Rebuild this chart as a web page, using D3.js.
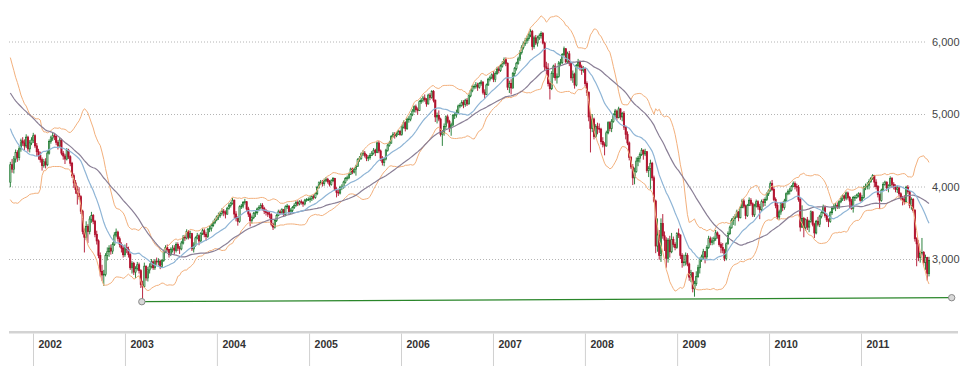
<!DOCTYPE html>
<html><head><meta charset="utf-8">
<script src="https://cdn.jsdelivr.net/npm/d3@7"></script>
<style>body{margin:0;background:#fff}svg{display:block}</style>
</head><body>
<svg id="c" width="966" height="366"></svg>
<script>
// weekly closes before the first drawn candle (Oct 27 2000 - Sep 28 2001), used only for the indicators
const warmClose = [6200,6250,6050,5900,5750,5820,5900,5750,5700,5830,
  5700,5750,5800,5850,5800,5650,5500,5400,5350,5380,5000,4850,5100,5150,5290,5520,5570,5620,5540,
  5580,5500,5390,5350,5190,5210,5230,5060,5000,4900,4950,4950,4780,4750,4750,4550,4400,4000,3650,4060];

const close2001 = [4300,4240,4380,4470,4400,4520,4630,4600,4560,4680,4520,4600,4640];
const high2001  = [4340,4380,4420,4510,4500,4560,4660,4680,4650,4720,4700,4640,4680];
const low2001   = [3990,4190,4180,4330,4340,4360,4480,4560,4500,4530,4480,4470,4570];

const close2002 = [4700,4560,4480,4430, 4370,4290,4340,4300, 4460,4620,4670,4700,4690, 4610,4560,4640,4460, 4420,4380,4500,4410,4320, 4150,4050,3960,3900, 3860,3660,3380,3300, 3450,3380,3550,3600,3520, 3340,3250,3050,2830, 2780,2790,3050,3100, 3150,3110,3200,3330,3370, 3280,3200,3150,3060];
const high2002  = [4740,4720,4600,4520, 4480,4400,4380,4390, 4490,4650,4700,4740,4730, 4710,4640,4670,4660, 4490,4450,4530,4520,4430, 4340,4180,4090,4010, 3990,3880,3680,3420, 3520,3480,3590,3650,3620, 3540,3390,3270,3090, 2920,2850,3080,3160, 3190,3200,3230,3370,3420, 3390,3310,3230,3180];
const low2002   = [4600,4530,4420,4370, 4330,4220,4260,4250, 4280,4440,4590,4630,4640, 4570,4510,4530,4430, 4370,4310,4360,4380,4280, 4120,3980,3900,3750, 3820,3620,3340,3090, 3260,3220,3340,3500,3480, 3300,3200,3010,2760, 2700,2630,2760,2980, 3030,3060,3070,3180,3300, 3240,3160,3090,3020];

const close2003 = [3160,3130,3060,2880,2940, 2820,2870,2920,2840, 2650,2620,2900,2740, 2850,2900,2960,2880, 2970,2960,2970,2900,2980, 3100,3160,3130,3060, 3130,3150,3120,3200, 3150,3140,3220,3300,3290, 3380,3300,3350,3140, 3190,3290,3320,3250,3350, 3390,3340,3310,3410, 3420,3460,3500,3540];
const high2003  = [3200,3220,3170,3080,2970, 2960,2900,2960,2950, 2860,2700,2950,2910, 2890,2940,3000,2980, 3000,3020,3010,2990,3000, 3130,3190,3200,3140, 3160,3190,3190,3230, 3230,3180,3250,3330,3330, 3410,3400,3390,3360, 3230,3310,3360,3340,3370, 3420,3420,3370,3430, 3460,3490,3530,3560];
const low2003   = [3030,3080,3020,2850,2800, 2780,2740,2840,2800, 2600,2420,2600,2700, 2690,2800,2870,2850, 2850,2920,2910,2860,2880, 2960,3080,3100,3020, 3040,3090,3060,3090, 3110,3070,3120,3200,3250, 3270,3270,3280,3110, 3090,3170,3270,3190,3230, 3330,3300,3250,3290, 3370,3380,3440,3480];

const close2004 = [3580,3600,3630,3660,3640, 3620,3700,3740,3770, 3810,3620,3560,3520, 3720,3730,3780,3790,3690, 3620,3530,3570,3630, 3640,3690,3710,3740, 3700,3660,3640,3620,3610, 3480,3440,3530,3600, 3650,3640,3680,3610, 3720,3730,3650,3670,3710, 3740,3780,3760,3790, 3780,3760,3810,3820,3820];
const high2004  = [3600,3640,3660,3700,3690, 3670,3720,3770,3790, 3840,3820,3660,3590, 3740,3760,3800,3830,3800, 3720,3640,3600,3650, 3670,3710,3740,3770, 3770,3720,3690,3670,3650, 3630,3500,3550,3620, 3680,3680,3700,3690, 3740,3760,3740,3700,3730, 3770,3800,3810,3810, 3820,3800,3830,3840,3850];
const low2004   = [3520,3540,3570,3600,3590, 3560,3610,3680,3710, 3750,3560,3520,3460, 3500,3690,3700,3750,3660, 3580,3450,3490,3550, 3580,3610,3660,3690, 3670,3620,3600,3580,3560, 3450,3400,3420,3510, 3590,3610,3620,3580, 3590,3690,3620,3620,3640, 3690,3720,3730,3740, 3750,3720,3740,3790,3800];

const close2005 = [3830,3860,3850,3900, 3990,4050,4060,4040, 4080,4100,4070,4030, 4080,4110,3960,3920,3910, 3990,3990,4060,4110, 4120,4170,4240,4200, 4240,4280,4370,4390,4450, 4460,4430,4390,4400, 4430,4460,4500,4470,4600, 4490,4390,4330,4380, 4500,4570,4600,4690, 4720,4700,4720,4760,4720];
const high2005  = [3870,3880,3890,3920, 4010,4070,4090,4090, 4110,4130,4120,4090, 4100,4130,4120,3990,3960, 4010,4030,4080,4130, 4150,4190,4260,4260, 4260,4300,4390,4420,4470, 4500,4490,4450,4430, 4460,4490,4530,4520,4620, 4630,4510,4420,4400, 4520,4590,4630,4710, 4750,4750,4750,4780,4780];
const low2005   = [3780,3800,3820,3830, 3880,3970,4020,4000, 4010,4060,4040,4000, 4010,4060,3940,3850,3870, 3890,3950,3970,4040, 4080,4100,4160,4170, 4180,4150,4270,4340,4370, 4420,4400,4350,4350, 4370,4420,4440,4420,4460, 4460,4350,4290,4280, 4360,4480,4550,4590, 4670,4660,4680,4710,4700];

const close2006 = [4820,4880,4800,4930, 4930,4990,5040,5100, 5060,5050,5170,5190,5220, 5200,5140,5260,5230, 5310,5190,4960,4980, 4930,4720,4740,4830,4960, 4900,4810,4850,4980, 4990,5020,5110,5120, 5160,5130,5190,5140,5250, 5320,5380,5380,5400, 5370,5420,5440,5300, 5270,5400,5480,5500,5540];
const high2006  = [4850,4910,4900,4950, 4970,5010,5070,5120, 5130,5090,5190,5220,5250, 5270,5220,5280,5290, 5330,5330,5200,5020, 5050,4950,4780,4870,4980, 4990,4920,4880,5000, 5030,5060,5130,5150, 5190,5190,5210,5220,5270, 5340,5400,5410,5440, 5430,5440,5470,5450, 5340,5420,5500,5530,5560];
const low2006   = [4700,4800,4760,4780, 4880,4900,4970,5020, 5020,4990,5040,5140,5160, 5170,5100,5130,5190, 5210,5160,4890,4870, 4900,4690,4560,4700,4790, 4870,4750,4700,4830, 4930,4950,5000,5080, 5100,5080,5100,5110,5130, 5230,5300,5340,5350, 5320,5350,5390,5270, 5210,5260,5390,5450,5480];

const close2007 = [5480,5560,5620,5600, 5660,5700,5750,5700, 5370,5420,5360,5560,5630, 5700,5760,5850,5920, 5970,6010,6040,6090, 6140,5930,6050,5980,6050, 6080,6110,5980,5650, 5630,5420,5350,5560,5660, 5500,5520,5700,5710, 5820,5900,5720,5830, 5700,5500,5550,5400,5670, 5710,5650,5600,5620];
const high2007  = [5590,5590,5650,5660, 5690,5730,5780,5780, 5710,5460,5480,5580,5650, 5720,5790,5880,5950, 6000,6050,6080,6120, 6170,6160,6080,6090,6080, 6110,6140,6130,6000, 5720,5700,5450,5590,5680, 5700,5560,5730,5760, 5840,5930,5910,5860, 5870,5720,5600,5570,5690, 5760,5740,5680,5660];
const low2007   = [5440,5440,5540,5560, 5580,5640,5680,5660, 5330,5290,5270,5350,5520, 5600,5680,5730,5820, 5890,5940,5970,6010, 6060,5880,5900,5950,5930, 6020,6040,5960,5600, 5540,5380,5200,5330,5500, 5460,5420,5500,5660, 5690,5800,5700,5690, 5660,5460,5430,5350,5380, 5640,5600,5540,5570];

const close2008 = [5420,5300,4960,4800, 4930,4690,4830,4800,4790, 4620,4580,4560,4740, 4880,4800,4900,4990, 5040,4950,5070,4960,5010, 4820,4720,4600,4400, 4270,4120,4210,4350, 4390,4440,4500,4450,4480, 4220,4250,4320,4120, 3800,3180,3330,3050,3490, 3320,3260,3010,3260, 3100,3270,3200,3160];
const high2008  = [5640,5450,5310,5020, 5000,4950,4860,4880,4870, 4810,4680,4610,4770, 4900,4900,4930,5010, 5070,5060,5100,5080,5030, 5040,4840,4760,4620, 4420,4310,4260,4400, 4420,4470,4530,4510,4520, 4490,4280,4370,4340, 4150,3820,3560,3400,3560, 3620,3380,3300,3290, 3320,3360,3310,3230];
const low2008   = [5380,5250,4900,4470, 4750,4650,4670,4720,4740, 4580,4540,4430,4550, 4720,4760,4750,4880, 4950,4910,4940,4920,4900, 4780,4650,4570,4360, 4240,4020,4030,4190, 4280,4330,4420,4370,4420, 4190,4130,3960,4080, 3780,3080,3100,2990,2960, 3280,3110,2880,2950, 3020,3080,3160,3120];

const close2009 = [3350,3330,3050,2950,2960, 3050,2930,2750,2810, 2590,2660,2760,2880, 2990,3030,3100,3030, 3160,3280,3230,3250,3280, 3360,3330,3200,3160, 3120,3010,3210,3350,3430, 3530,3560,3580,3650, 3570,3710,3800,3730, 3600,3740,3810,3760,3610, 3730,3790,3720,3680, 3790,3780,3820,3900];
const high2009  = [3370,3420,3340,3080,3060, 3090,3080,2950,2850, 2820,2700,2830,2920, 3020,3060,3140,3110, 3190,3320,3310,3300,3310, 3400,3380,3330,3230, 3220,3140,3230,3380,3460, 3560,3590,3620,3680, 3660,3730,3830,3830, 3750,3760,3850,3840,3780, 3760,3820,3810,3760, 3820,3830,3850,3920];
const low2009   = [3140,3290,3000,2880,2900, 2910,2900,2700,2680, 2540,2480,2630,2740, 2800,2960,3000,2940, 3000,3140,3190,3190,3200, 3250,3280,3170,3080, 3080,2970,2980,3200,3330, 3420,3470,3460,3570, 3520,3560,3700,3700, 3550,3580,3730,3730,3580, 3580,3710,3680,3550, 3660,3720,3730,3800];

const close2010 = [3940,4040,3960,3820,3740, 3580,3650,3760,3710, 3800,3900,3930,3950, 4000,4040,4000,3990,3820, 3440,3560,3430,3540, 3440,3520,3650,3480, 3360,3520,3480,3590,3640, 3720,3600,3540,3520, 3640,3700,3720,3740, 3720,3790,3830,3870,3840, 3910,3850,3800,3700, 3850,3850,3880,3900,3810];
const high2010  = [3960,4070,4090,3990,3850, 3780,3680,3780,3790, 3830,3920,3960,3980, 4020,4070,4070,4040,4020, 3850,3740,3580,3560, 3580,3540,3670,3660, 3500,3540,3580,3610,3660, 3750,3740,3630,3560, 3660,3730,3760,3770, 3780,3810,3860,3890,3890, 3930,3930,3870,3830, 3870,3880,3900,3920,3920];
const low2010   = [3870,3930,3940,3800,3700, 3550,3540,3610,3660, 3680,3790,3880,3890, 3930,3990,3960,3930,3790, 3380,3430,3300,3390, 3400,3370,3500,3450, 3290,3340,3450,3440,3560, 3620,3570,3510,3440, 3500,3610,3680,3660, 3690,3690,3770,3800,3800, 3810,3820,3700,3680, 3640,3800,3830,3850,3790];

const close2011 = [3850,3990,4000,4020, 4070,4110,4150,4060, 4000,3890,3810,3950, 4030,4060,3980,4010,4110, 4030,4000,3960,3980, 3900,3840,3820,3790, 3990,3930,3740,3820,3670, 3280,3210,3020,3080, 3090,2950,3020,2800,2980];
const high2011  = [3880,4010,4040,4060, 4100,4130,4170,4160, 4100,4020,3900,3970, 4060,4080,4070,4030,4140, 4130,4060,4030,4010, 4000,3920,3870,3880, 4010,4020,3940,3850,3840, 3690,3300,3260,3110, 3290,3110,3060,3030,3030];
const low2011   = [3790,3830,3950,3960, 3960,4050,4090,3990, 3960,3850,3690,3790, 3940,4010,3940,3920,4000, 3980,3960,3920,3910, 3860,3810,3740,3750, 3780,3900,3700,3680,3640, 3240,2900,2970,2950, 3050,2900,2850,2700,2760];

// first Friday of each block of weekly candles
const blockStarts = ["2001-10-05","2002-01-04","2003-01-03","2004-01-02","2005-01-07","2006-01-06","2007-01-05","2008-01-04","2009-01-02","2010-01-01","2011-01-07"];
const blocks = [
  [close2001,high2001,low2001],[close2002,high2002,low2002],[close2003,high2003,low2003],
  [close2004,high2004,low2004],[close2005,high2005,low2005],[close2006,high2006,low2006],
  [close2007,high2007,low2007],[close2008,high2008,low2008],[close2009,high2009,low2009],
  [close2010,high2010,low2010],[close2011,high2011,low2011]
];

const yTicks = [3000,4000,5000,6000];
const trendDates = ["2003-03-09","2011-12-27"];
const trendValues = [2411,2466];

const parse = d3.timeParse("%Y-%m-%d");
const candles = [];
blocks.forEach((b,bi)=>{
  const start = parse(blockStarts[bi]);
  b[0].forEach((c,i)=>{
    candles.push({date: d3.timeDay.offset(start, 7*i - 2), c: c, h: b[1][i], l: b[2][i]});
  });
});
candles.forEach((d,i)=>{
  d.o = i===0 ? warmClose[warmClose.length-1] : candles[i-1].c;
  d.h = Math.max(d.h, d.o, d.c);
  d.l = Math.min(d.l, d.o, d.c);
});

// indicators: 20-week SMA with 2σ Bollinger bands, 50-week SMA
const series = warmClose.concat(candles.map(d=>d.c));
const off = warmClose.length;
function sma(n,i){let s=0;for(let k=i-n+1;k<=i;k++)s+=series[k];return s/n;}
candles.forEach((d,j)=>{
  const i=j+off;
  const m=sma(20,i);
  let v=0;for(let k=i-19;k<=i;k++)v+=(series[k]-m)*(series[k]-m);
  const sd=Math.sqrt(v/20);
  d.ma20=m;d.up=m+2*sd;d.dn=m-2*sd;
  d.maL=sma(50,i);
});

const svg = d3.select("#c");
const x = d3.scaleTime().domain([new Date(2002,0,1), new Date(2011,0,1)]).range([33,861]);
const y = d3.scaleLinear().domain([2000,6000]).range([331.5,41.5]);

// grid + right labels
const gAx = svg.append("g").attr("transform","translate(9,0)")
  .call(d3.axisRight(y).tickValues(yTicks).tickSize(918).tickPadding(5).tickFormat(d3.format(",")));
gAx.select(".domain").remove();
gAx.selectAll(".tick line").attr("stroke","#b4b4b4").attr("stroke-dasharray","1,2");
gAx.selectAll(".tick text").attr("fill","#444").style("font","11px Arial, 'Liberation Sans', sans-serif");

// candles
const UP="#17762a", DN="#b0102c";
const cg = svg.append("g");
const cw = 1.2;
cg.selectAll("line.w").data(candles).join("line")
  .attr("x1",d=>x(d.date)).attr("x2",d=>x(d.date))
  .attr("y1",d=>y(d.h)).attr("y2",d=>y(d.l))
  .attr("stroke",d=>d.c>=d.o?UP:DN).attr("stroke-width",0.9);
cg.selectAll("rect").data(candles).join("rect")
  .attr("x",d=>x(d.date)-cw/2).attr("width",cw)
  .attr("y",d=>y(Math.max(d.o,d.c)))
  .attr("height",d=>Math.max(0.6,Math.abs(y(d.o)-y(d.c))))
  .attr("fill",d=>d.c>=d.o?"#fff":DN)
  .attr("stroke",d=>d.c>=d.o?UP:DN).attr("stroke-width",0.8);

// indicator lines
const line = k => d3.line().x(d=>x(d.date)).y(d=>y(d[k]));
svg.append("path").datum(candles).attr("d",line("up")).attr("fill","none").attr("stroke","#f3b07c").attr("stroke-width",1);
svg.append("path").datum(candles).attr("d",line("dn")).attr("fill","none").attr("stroke","#f3b07c").attr("stroke-width",1);
svg.append("path").datum(candles).attr("d",line("maL")).attr("fill","none").attr("stroke","#8a7f96").attr("stroke-width",1.2);
svg.append("path").datum(candles).attr("d",line("ma20")).attr("fill","none").attr("stroke","#8fb5d6").attr("stroke-width",1.2);

// trend line
const trend = trendDates.map((t,i)=>({date:parse(t), v:trendValues[i]}));
svg.append("path").datum(trend).attr("d",d3.line().x(d=>x(d.date)).y(d=>y(d.v)))
  .attr("stroke","#2a862a").attr("stroke-width",1.3).attr("fill","none");
svg.selectAll("circle.t").data(trend).join("circle")
  .attr("cx",d=>x(d.date)).attr("cy",d=>y(d.v)).attr("r",3.2)
  .attr("fill","#d8d8d8").attr("stroke","#8a8a8a").attr("stroke-width",1);

// bottom axis
svg.append("rect").attr("x",9).attr("y",331).attr("width",949).attr("height",2.5).attr("fill","#d3d3d3");
const xg = svg.append("g").attr("transform","translate(0,333.5)")
  .call(d3.axisBottom(x).ticks(d3.timeYear.every(1)).tickSize(33).tickFormat(d3.timeFormat("%Y")));
xg.select(".domain").remove();
xg.selectAll(".tick line").attr("stroke","#d0d0d0");
xg.selectAll(".tick text").attr("x",5).attr("y",14).attr("dy",null).attr("text-anchor","start")
  .attr("fill","#333").style("font","bold 10.5px Arial, 'Liberation Sans', sans-serif");
</script>
</body></html>
